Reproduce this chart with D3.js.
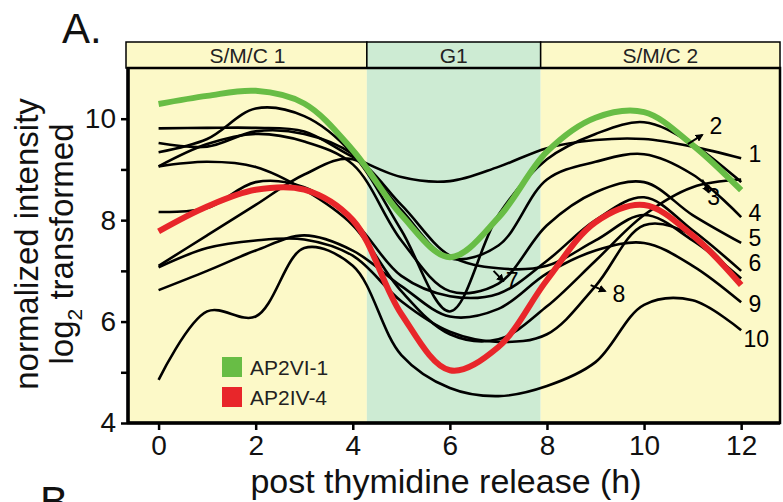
<!DOCTYPE html>
<html>
<head>
<meta charset="utf-8">
<script src="https://cdn.jsdelivr.net/npm/d3@7"></script>
<style>
  body { margin: 0; background: #fff; }
  svg text { font-family: "Liberation Sans", Arial, sans-serif; }
</style>
</head>
<body>
<svg id="chart" width="783" height="502"></svg>
<script>
// hours sampled
let hours = [0, 1, 2, 3, 4, 5, 6, 7, 8, 9, 10, 11, 12];

// phases (start/end in h)
let phases = [
  { name: "S/M/C 1", start: -0.63, end: 4.29, fill: "#fcf9c8" },
  { name: "G1", start: 4.29, end: 7.87, fill: "#cdebd3" },
  { name: "S/M/C 2", start: 7.87, end: 12.8, fill: "#fcf9c8" }
];

// highlighted proteins
let ap2vi1 = [10.29, 10.45, 10.55, 10.3, 9.38, 8.1, 7.27, 8.05, 9.35, 10.02, 10.13, 9.48, 8.59];
let ap2iv4 = [7.78, 8.27, 8.6, 8.6, 8.0, 6.15, 5.04, 5.5, 6.82, 7.96, 8.3, 7.7, 6.72];

// numbered black profiles
let profiles = [
  [9.81, 9.82, 9.82, 9.75, 9.25, 8.85, 8.77, 9.05, 9.42, 9.58, 9.6, 9.45, 9.22],
  [9.34, 9.6, 10.2, 10.05, 9.3, 7.8, 6.2, 8.1, 9.2, 9.7, 9.93, 9.5, 8.75],
  [9.06, 9.15, 9.05, 8.6, 7.9, 6.6, 5.75, 5.65, 6.3, 7.2, 8.1, 8.65, 8.8],
  [9.52, 9.45, 9.75, 9.7, 9.3, 8.2, 7.25, 7.5, 8.8, 9.15, 9.3, 8.9, 8.06],
  [9.06, 9.5, 9.7, 9.55, 9.1, 7.6, 6.6, 6.75, 7.9, 8.55, 8.75, 8.1, 7.55],
  [8.16, 8.24, 8.75, 8.65, 8.0, 6.9, 6.5, 6.55, 7.2, 8.0, 8.45, 7.8, 7.0],
  [7.1, 7.7, 8.3, 8.9, 9.2, 8.3, 7.3, 7.05, 7.1, 7.6, 8.1, 7.6, 6.85],
  [7.07, 7.45, 7.6, 7.62, 7.3, 6.4, 5.8, 5.6, 5.75, 6.7, 7.9, 7.7, 6.75],
  [6.62, 7.0, 7.4, 7.7, 7.4, 6.7, 6.1, 6.25, 6.95, 7.4, 7.55, 7.1, 6.38],
  [4.85, 6.2, 6.1, 7.45, 7.1, 5.34, 4.69, 4.53, 4.73, 5.2, 6.33, 6.42, 5.83]
];

// profile number labels: [label, h, value]
let endLabels = [
  ["1", 12.15, 9.3], ["2", 11.35, 9.85], ["3", 11.3, 8.45], ["4", 12.15, 8.15],
  ["5", 12.15, 7.65], ["6", 12.15, 7.15], ["9", 12.15, 6.35], ["10", 12.05, 5.65],
  ["7", 7.15, 6.8], ["8", 9.35, 6.55]
];
// arrows: [h1, v1, h2, v2]
let arrows = [
  [10.9, 9.5, 11.2, 9.68],
  [11.2, 8.8, 11.33, 8.55],
  [6.9, 7.0, 7.1, 6.8],
  [8.9, 6.72, 9.2, 6.6]
];

let xTicks = [0, 2, 4, 6, 8, 10, 12];
let yTicks = [4, 5, 6, 7, 8, 9, 10];
let yTickLabels = [4, 6, 8, 10];

let legend = [
  { name: "AP2VI-1", color: "#68bd45" },
  { name: "AP2IV-4", color: "#e8262a" }
];

let svg = d3.select("#chart");
let pLeft = 128, pRight = 780, pTop = 68, pBottom = 423;

let x = d3.scaleLinear().domain([-0.63, 12.8]).range([pLeft, pRight]);
let y = d3.scaleLinear().domain([4, 11]).range([pBottom, pTop]);

svg.append("defs").append("marker")
  .attr("id", "arr")
  .attr("viewBox", "0 0 10 10")
  .attr("refX", 8).attr("refY", 5)
  .attr("markerWidth", 4).attr("markerHeight", 4)
  .attr("orient", "auto")
  .append("path").attr("d", "M0,0L10,5L0,10z").attr("fill", "#000");

// background bands
svg.selectAll("rect.band")
  .data(phases)
  .enter().append("rect")
  .attr("class", "band")
  .attr("x", function(d) { return x(d.start); })
  .attr("y", pTop)
  .attr("width", function(d) { return x(d.end) - x(d.start); })
  .attr("height", pBottom - pTop)
  .attr("fill", function(d) { return d.fill; });

// header strip
function hx(d) { return d.start === phases[0].start ? pLeft - 2 : x(d.start); }
let header = svg.append("g");
header.selectAll("rect")
  .data(phases)
  .enter().append("rect")
  .attr("x", hx)
  .attr("y", 42)
  .attr("width", function(d) { return x(d.end) - hx(d); })
  .attr("height", 26)
  .attr("fill", function(d) { return d.fill; })
  .attr("stroke", "#000")
  .attr("stroke-width", 1.5);
header.selectAll("text")
  .data(phases)
  .enter().append("text")
  .attr("x", function(d) { return (Math.max(x(d.start), pLeft) + x(d.end)) / 2; })
  .attr("y", 63)
  .attr("text-anchor", "middle")
  .attr("font-size", 21)
  .attr("fill", "#222")
  .text(function(d) { return d.name; });

let line = d3.line()
  .x(function(d, i) { return x(hours[i]); })
  .y(function(d) { return y(d); })
  .curve(d3.curveCatmullRom.alpha(0.5));

svg.append("g")
  .selectAll("path")
  .data(profiles)
  .enter().append("path")
  .attr("d", line)
  .attr("fill", "none")
  .attr("stroke", "#000")
  .attr("stroke-width", 2.6);

svg.append("path")
  .attr("d", line(ap2iv4))
  .attr("fill", "none")
  .attr("stroke", legend[1].color)
  .attr("stroke-width", 6);
svg.append("path")
  .attr("d", line(ap2vi1))
  .attr("fill", "none")
  .attr("stroke", legend[0].color)
  .attr("stroke-width", 6);

// arrows + numbers
svg.selectAll("line.arrow")
  .data(arrows)
  .enter().append("line")
  .attr("class", "arrow")
  .attr("x1", function(d) { return x(d[0]); })
  .attr("y1", function(d) { return y(d[1]); })
  .attr("x2", function(d) { return x(d[2]); })
  .attr("y2", function(d) { return y(d[3]); })
  .attr("stroke", "#000")
  .attr("stroke-width", 2)
  .attr("marker-end", "url(#arr)");

svg.selectAll("text.num")
  .data(endLabels)
  .enter().append("text")
  .attr("class", "num")
  .attr("x", function(d) { return x(d[1]); })
  .attr("y", function(d) { return y(d[2]); })
  .attr("font-size", 23)
  .attr("dy", "0.35em")
  .text(function(d) { return d[0]; });

// legend
let leg = svg.append("g").selectAll("g")
  .data(legend)
  .enter().append("g")
  .attr("transform", function(d, i) { return "translate(222," + (357 + i * 30) + ")"; });
leg.append("rect").attr("width", 20).attr("height", 20)
  .attr("fill", function(d) { return d.color; });
leg.append("text").attr("x", 28).attr("y", 18).attr("font-size", 21)
  .attr("fill", "#222")
  .text(function(d) { return d.name; });

// frame
svg.append("rect")
  .attr("x", pLeft).attr("y", pTop)
  .attr("width", pRight - pLeft).attr("height", pBottom - pTop)
  .attr("fill", "none").attr("stroke", "#000").attr("stroke-width", 2.5);

// axes
let xAxis = svg.append("g")
  .attr("transform", "translate(0," + pBottom + ")")
  .call(d3.axisBottom(x).tickValues(xTicks).tickSize(7).tickPadding(5));
let yAxis = svg.append("g")
  .attr("transform", "translate(" + pLeft + ",0)")
  .call(d3.axisLeft(y).tickValues(yTicks).tickSize(7).tickPadding(5)
    .tickFormat(function(d) { return yTickLabels.indexOf(d) >= 0 ? d : ""; }));
[xAxis, yAxis].forEach(function(a) {
  a.select(".domain").attr("stroke-width", 3.5);
  a.selectAll(".tick line").attr("stroke-width", 2.5);
  a.selectAll(".tick text").attr("font-size", 28)
    .attr("font-family", "Liberation Sans, Arial, sans-serif").attr("fill", "#111");
});
yAxis.select(".domain").attr("d", "M0," + pTop + "V" + pBottom);
xAxis.select(".domain").attr("d", "M" + pLeft + ",0H" + pRight);

// titles
svg.append("text")
  .attr("x", 446).attr("y", 493)
  .attr("text-anchor", "middle")
  .attr("font-size", 34)
  .attr("fill", "#111")
  .text("post thymidine release (h)");

let yTitle = svg.append("g").attr("transform", "translate(38,244) rotate(-90)");
yTitle.append("text")
  .attr("text-anchor", "middle")
  .attr("font-size", 33).attr("fill", "#111")
  .text("normalized intensity");
let t2 = yTitle.append("text")
  .attr("y", 35)
  .attr("text-anchor", "middle")
  .attr("font-size", 33).attr("fill", "#111");
t2.append("tspan").text("log");
t2.append("tspan").attr("font-size", 21).attr("dy", 9).text("2");
t2.append("tspan").attr("dy", -9).text(" transformed");

svg.append("text")
  .attr("x", 62).attr("y", 43)
  .attr("font-size", 42).attr("fill", "#111")
  .text("A.");
// next panel's letter, cut by the bottom edge as in the reference
svg.append("text")
  .attr("x", 40).attr("y", 516)
  .attr("font-size", 42).attr("fill", "#111")
  .text("B.");
</script>
</body>
</html>
